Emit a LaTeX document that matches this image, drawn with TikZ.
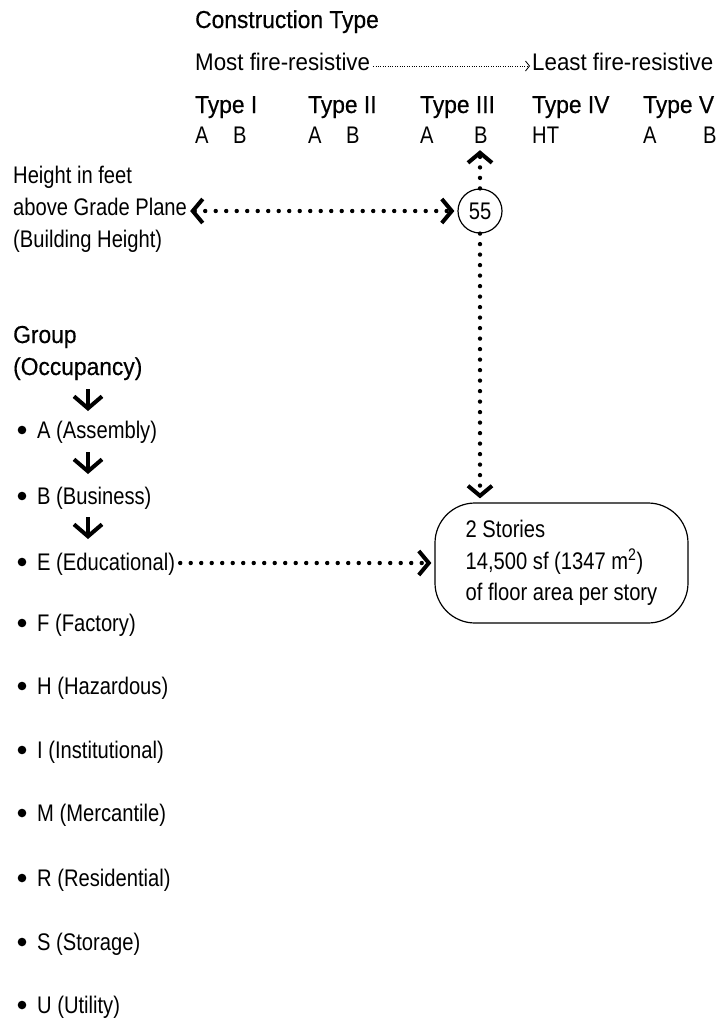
\documentclass[tikz,border=0pt]{standalone}
\usepackage{fontspec}
\setmainfont[FakeStretch=0.84]{Liberation Sans}
\newfontfamily\headfont[FakeStretch=0.93,FakeBold=0.4]{Liberation Sans}
\newfontfamily\widefont[FakeStretch=0.93]{Liberation Sans}
\usetikzlibrary{arrows.meta}
\tikzset{
  txt/.style={anchor=base west, inner sep=0pt, font=\fontsize{24}{28}\selectfont},
  wtxt/.style={anchor=base west, inner sep=0pt, font=\widefont\fontsize{24}{28}\selectfont},
  hd/.style={anchor=base west, inner sep=0pt, font=\headfont\fontsize{24.5}{28}\selectfont},
  dots/.style={line width=4.4pt, line cap=round, dash pattern=on 0pt off 10.5pt},
  dotarrow/.style={dots, -{Straight Barb[length=10pt,width=24pt,line width=4pt]}},
  dotboth/.style={dots, {Straight Barb[length=10pt,width=24pt,line width=4pt]}-{Straight Barb[length=10pt,width=24pt,line width=4pt]}},
  fatarrow/.style={line width=4pt, -{Straight Barb[length=12pt,width=28pt,line width=4pt]}},
  thinarrow/.style={line width=0.8pt, dash pattern=on 0.8pt off 1.6pt, -{Straight Barb[length=4pt,width=10pt,line width=0.8pt]}},
}
\begin{document}
\begin{tikzpicture}[x=1pt,y=-1pt]
\useasboundingbox (0,0) rectangle (724,1020);
% header
\node[hd] (ct) at (195,28) {Construction Type};
\node[wtxt] (most) at (195,70) {Most fire-resistive};
\node[wtxt] (least) at (532,70) {Least fire-resistive};
\draw[thinarrow] ([xshift=3pt,yshift=4pt]most.base east) -- ([xshift=-2pt,yshift=4pt]least.base west);
\node[hd] (t1) at (195,113) {Type I};
\node[hd] (t2) at (308,113) {Type II};
\node[hd] (t3) at (420,113) {Type III};
\node[hd] (t4) at (532,113) {Type IV};
\node[hd] (t5) at (643,113) {Type V};
\node[txt] (a1) at (195,143) {A};
\node[txt] (b1) at (233,143) {B};
\node[txt] (a2) at (308,143) {A};
\node[txt] (b2) at (346,143) {B};
\node[txt] (a3) at (420,143) {A};
\node[txt] (b3) at (474,143) {B};
\node[txt] (ht) at (532,143) {HT};
\node[txt] (a5) at (643,143) {A};
\node[txt] (b5) at (703,143) {B};
% height
\node[txt] (h1) at (13,183) {Height in feet};
\node[txt] (h2) at (13,215) {above Grade Plane};
\node[txt] (h3) at (13,247) {(Building Height)};
\node[circle, draw, line width=1.2pt, minimum size=44pt, inner sep=0pt, font=\fontsize{24}{28}\selectfont] (c55) at (480,211) {55};
\draw[dotboth, shorten <=3pt, shorten >=3pt] (h2.east |- c55) -- (c55.west);
\draw[dotarrow, shorten >=7pt] (c55.north) -- (b3.south -| c55);
% box
\node[draw, line width=1.2pt, rounded corners=40pt, minimum width=253pt, minimum height=120pt, align=left, font=\fontsize{24}{31.5}\selectfont] (box) at (561.5,563) {2 Stories\\14,500 sf (1347 m\textsuperscript{2})\\of floor area per story};
\draw[dotarrow, shorten >=4pt] (c55.south) -- (box.north -| c55);
% group
\node[hd] (grp) at (13,343) {Group};
\node[hd] (occ) at (13,375) {(Occupancy)};
\foreach \n/\y/\t in {A/430/A (Assembly), B/496/B (Business), E/562/E (Educational), F/623/F (Factory), H/686/H (Hazardous), I/750/I (Institutional), M/813/M (Mercantile), R/878/R (Residential), S/942/S (Storage), U/1005/U (Utility)}{
  \fill (22,\y) circle (4.3);
  \node[txt] (g\n) at (37,\y+8.6) {\t};
}
\coordinate (ga1) at (88,389); \coordinate (gb1) at (88,411);
\coordinate (ga2) at (88,452); \coordinate (gb2) at (88,474);
\coordinate (ga3) at (88,517); \coordinate (gb3) at (88,539);
\draw[fatarrow] (ga1) -- (gb1);
\draw[fatarrow] (ga2) -- (gb2);
\draw[fatarrow] (ga3) -- (gb3);
\draw[dotarrow, shorten <=5pt, shorten >=3pt] (gE.east |- box) -- (box.west);
\end{tikzpicture}
\end{document}
